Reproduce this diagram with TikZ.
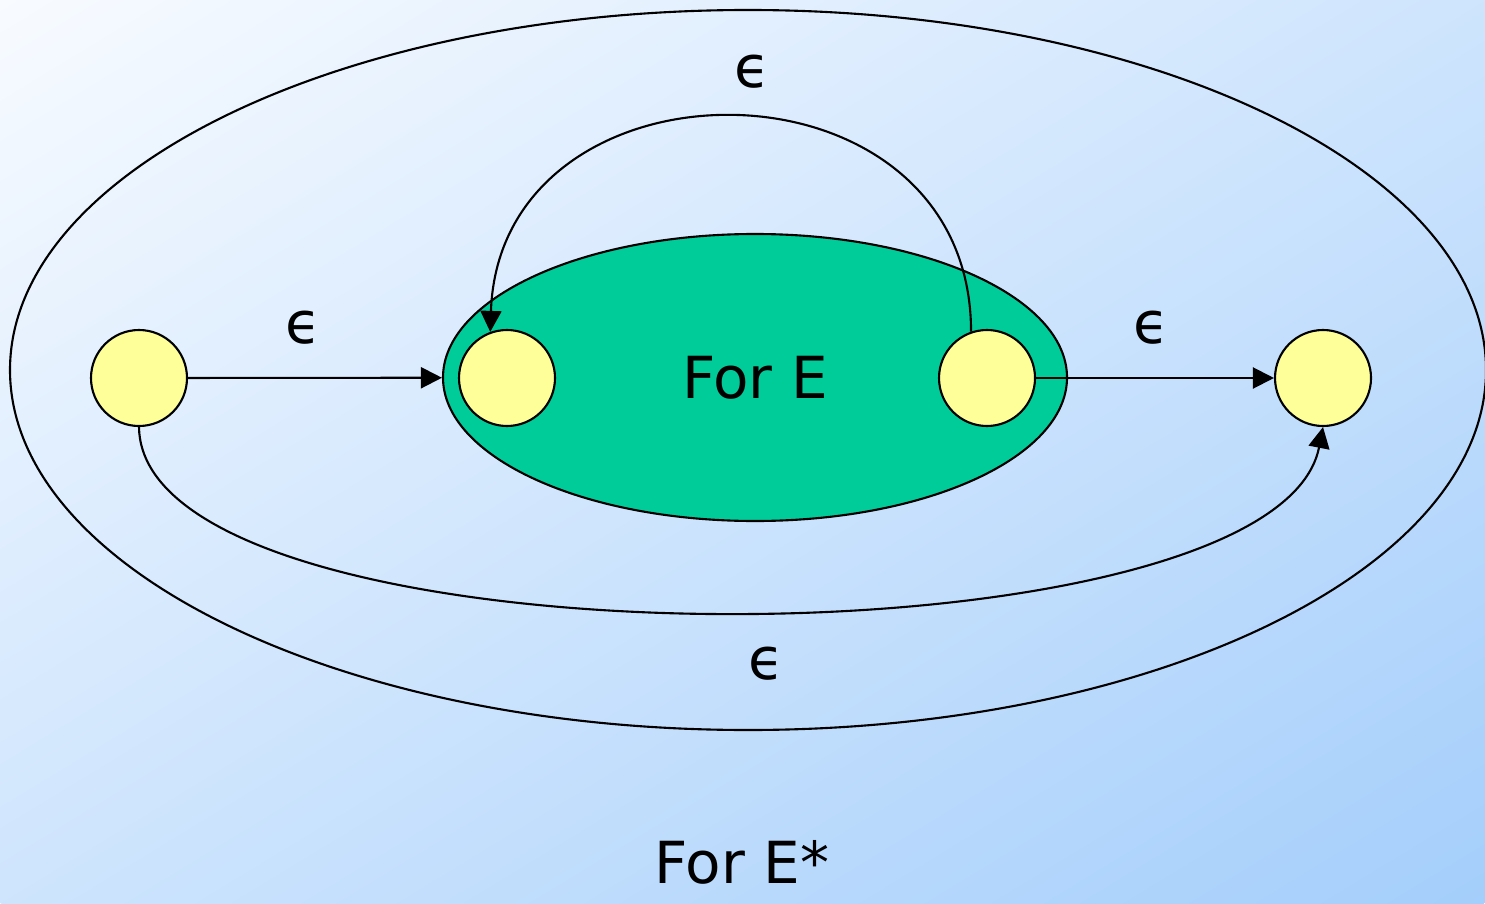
\documentclass[tikz,border=0pt]{standalone}
\usepackage{fontspec}
\setmainfont{DejaVu Sans}
\usepackage{tikz}
\usetikzlibrary{
    shapes.geometric,
    arrows.meta,
    positioning
}
\definecolor{Cbgtop}{RGB}{248, 251, 255}
\definecolor{Cbgbot}{RGB}{164, 206, 251}
\definecolor{Cgreen}{RGB}{0, 204, 153}
\definecolor{Cyellow}{RGB}{255, 255, 153}
\tikzset{
    cstate/.style={
        circle, draw=black, line width=0.6pt, fill=Cyellow,
        minimum size=0.96cm, inner sep=0pt
    },
    cgroup/.style={
        ellipse, draw=black, line width=0.6pt, inner sep=0pt
    },
    clabel/.style={font=\fontsize{16.5}{20}\selectfont, inner sep=0pt},
    carr/.style={-{Triangle[length=0.21cm, width=0.21cm]}, line width=0.6pt, black},
}

\begin{document}
\begin{tikzpicture}

    % ── 背景（对角渐变）──────────────────────────────────
    \useasboundingbox (0,0) rectangle (14.85,9.03);
    \begin{scope}
        \clip (0,0) rectangle (14.85,9.03);
        \begin{scope}[transform canvas={shift={(7.425,4.515)}, xscale=14.85/9.03, rotate=45}]
            \shade [top color=Cbgtop, bottom color=Cbgbot]
                (-6.385,-6.385) rectangle (6.385,6.385);
        \end{scope}
    \end{scope}

    % ── 外层与内层椭圆 ───────────────────────────────────
    \node [cgroup, minimum width=14.76cm, minimum height=7.2cm]
        (forEstar) at (7.48,5.33) {};
    \node [cgroup, fill=Cgreen, minimum width=6.24cm, minimum height=2.87cm, clabel]
        (forE) at (7.55,5.255) {For E};

    % ── 状态 ─────────────────────────────────────────────
    \node [cstate] (qstart) at (1.39,5.25) {};
    \node [cstate] (qin)    at (5.07,5.25) {};
    \node [cstate] (qout)   at (9.87,5.25) {};
    \node [cstate] (qend)   at (13.23,5.25) {};

    % ── 箭头 ─────────────────────────────────────────────
    \draw [carr] (qstart) -- (forE);
    \draw [carr] (qout.east) -- (qend);
    \draw [carr] (qout.109) .. controls (9.71,8.57) and (5.0,8.57) .. (qin.110);
    \draw [carr] (qstart.south) .. controls (1.42,2.3) and (12.75,2.3) .. (qend.south);

    % ── 标签 ─────────────────────────────────────────────
    \node [clabel] (eps1) at (3.03,5.75) {ϵ};
    \node [clabel] (eps2) at (7.52,8.31) {ϵ};
    \node [clabel] (eps3) at (11.51,5.75) {ϵ};
    \node [clabel] (eps4) at (7.66,2.39) {ϵ};
    \node [clabel, anchor=base] (lblstar) at (7.42,0.2) {For E*};

\end{tikzpicture}
\end{document}
